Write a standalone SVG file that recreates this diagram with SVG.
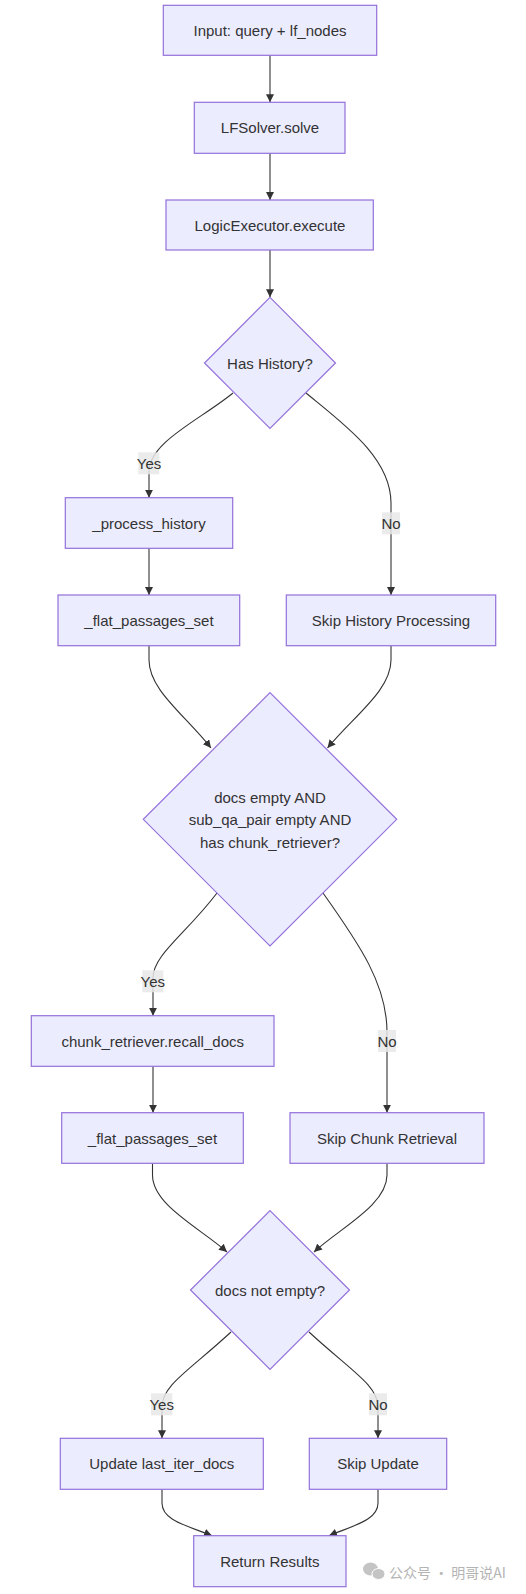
<svg xmlns="http://www.w3.org/2000/svg" width="526" height="1594" viewBox="0 0 526 1594">
<style>
.node rect,.node polygon{fill:#ECECFF;stroke:#9370DB;stroke-width:1.2}
.node text{font-family:"Liberation Sans",Arial,sans-serif;font-size:15px;fill:#333;text-anchor:middle;dominant-baseline:central}
.edges path{fill:none;stroke:#333;stroke-width:1.1}
.lbl rect{fill:#e8e8e8;opacity:0.85}
.lbl text{font-family:"Liberation Sans",Arial,sans-serif;font-size:15px;fill:#333;text-anchor:middle;dominant-baseline:central}
.wm{font-family:"Noto Sans CJK SC","Liberation Sans",sans-serif;font-size:14px;fill:#b4b4b4}
</style>
<defs>
<marker id="arr" viewBox="0 0 10 10" refX="10" refY="5" markerWidth="8" markerHeight="8" markerUnits="userSpaceOnUse" orient="auto">
<path d="M0,0 L10,5 L0,10 z" fill="#333"/>
</marker>
</defs>
<rect width="526" height="1594" fill="#fff"/>
<g class="edges">
<path d="M270,55.3 L270,102.3" marker-end="url(#arr)"/>
<path d="M270,153.3 L270,200" marker-end="url(#arr)"/>
<path d="M270,250 L270,297.3" marker-end="url(#arr)"/>
<path d="M233,393 C200,420 149,442 149,472 L149,497.7" marker-end="url(#arr)"/>
<path d="M306,393 C345,425 391,458 391,503 L391,595" marker-end="url(#arr)"/>
<path d="M149,498 L149,595" marker-end="url(#arr)"/>
<path d="M149,646 L149,660 C149,690 185,715 211,748" marker-end="url(#arr)"/>
<path d="M391,646 L391,660 C391,690 355,715 327.5,748" marker-end="url(#arr)"/>
<path d="M217,893 C185,935 153,955 153,978 L153,1015.7" marker-end="url(#arr)"/>
<path d="M323,893 C360,945 387,985 387,1032 L387,1112.7" marker-end="url(#arr)"/>
<path d="M153,1066.3 L153,1112.7" marker-end="url(#arr)"/>
<path d="M152.5,1163.5 L152.5,1175 C152.5,1205 200,1228 227,1252" marker-end="url(#arr)"/>
<path d="M387,1163.5 L387,1175 C387,1205 340,1228 314,1252" marker-end="url(#arr)"/>
<path d="M231,1332 C190,1370 162,1385 162,1407 L162,1438.3" marker-end="url(#arr)"/>
<path d="M309,1332 C350,1370 378,1385 378,1407 L378,1438.3" marker-end="url(#arr)"/>
<path d="M162,1489.3 L162,1503 C162,1520 185,1525 212,1535.7" marker-end="url(#arr)"/>
<path d="M378,1489.3 L378,1503 C378,1520 355,1525 329,1535.7" marker-end="url(#arr)"/>
</g>
<g class="lbl" id="lbl-yes1"><rect x="138.3" y="452.3" width="21" height="22"/><text x="149" y="463.5">Yes</text></g>
<g class="lbl" id="lbl-no1"><rect x="382" y="512.3" width="18" height="22"/><text x="391" y="523.5">No</text></g>
<g class="lbl" id="lbl-yes2"><rect x="142.3" y="970.3" width="21" height="22"/><text x="152.8" y="981.5">Yes</text></g>
<g class="lbl" id="lbl-no2"><rect x="378" y="1030" width="18" height="22"/><text x="387" y="1041">No</text></g>
<g class="lbl" id="lbl-yes3"><rect x="151" y="1393.3" width="21.3" height="22"/><text x="161.7" y="1404.5">Yes</text></g>
<g class="lbl" id="lbl-no3"><rect x="369" y="1393.3" width="18" height="22"/><text x="378" y="1404.5">No</text></g>
<g class="node" id="input"><rect x="163.3" y="5.3" width="213.4" height="50"/><text x="270" y="30.3">Input: query + lf_nodes</text></g>
<g class="node" id="lfsolver"><rect x="194.3" y="102.3" width="150.7" height="51"/><text x="270" y="127.8">LFSolver.solve</text></g>
<g class="node" id="logicexec"><rect x="166" y="200" width="207.3" height="50"/><text x="270" y="225">LogicExecutor.execute</text></g>
<g class="node" id="hashistory"><polygon points="270,297.3 335.5,363 270,428.5 204.5,363"/><text x="270" y="363">Has History?</text></g>
<g class="node" id="processhistory"><rect x="65.3" y="497.7" width="167.4" height="50.6"/><text x="149" y="523">_process_history</text></g>
<g class="node" id="flat1"><rect x="58" y="595" width="181.7" height="50.7"/><text x="149" y="620.3">_flat_passages_set</text></g>
<g class="node" id="skiphistory"><rect x="286.3" y="595" width="209.4" height="50.7"/><text x="391" y="620.3">Skip History Processing</text></g>
<g class="node" id="docsempty"><polygon points="270,692.7 396.7,819.3 270,946 143.3,819.3"/><text x="270" y="797">docs empty AND</text><text x="270" y="819.7">sub_qa_pair empty AND</text><text x="270" y="842.3">has chunk_retriever?</text></g>
<g class="node" id="recall"><rect x="31.3" y="1015.7" width="242.7" height="50.6"/><text x="152.7" y="1041">chunk_retriever.recall_docs</text></g>
<g class="node" id="flat2"><rect x="61.7" y="1112.7" width="181.6" height="50.6"/><text x="152.5" y="1138">_flat_passages_set</text></g>
<g class="node" id="skipchunk"><rect x="290" y="1112.7" width="194" height="50.6"/><text x="387" y="1138">Skip Chunk Retrieval</text></g>
<g class="node" id="docsnotempty"><polygon points="270,1210.7 349.5,1290 270,1369.3 190.5,1290"/><text x="270" y="1290">docs not empty?</text></g>
<g class="node" id="update"><rect x="60.3" y="1438.3" width="203" height="51"/><text x="161.8" y="1463.8">Update last_iter_docs</text></g>
<g class="node" id="skipupdate"><rect x="309.3" y="1438.3" width="137.4" height="51"/><text x="378" y="1463.8">Skip Update</text></g>
<g class="node" id="return"><rect x="193.7" y="1535.7" width="152.3" height="51"/><text x="269.8" y="1561.2">Return Results</text></g>
<g id="watermark">
<ellipse cx="370.5" cy="1569" rx="7.5" ry="6.5" fill="#c4c4c4"/>
<ellipse cx="378.5" cy="1574" rx="6.5" ry="5.5" fill="#c4c4c4" stroke="#fff" stroke-width="1"/>
<text class="wm" x="389" y="1577.5">公众号 · 明哥说AI</text>
</g>
</svg>
